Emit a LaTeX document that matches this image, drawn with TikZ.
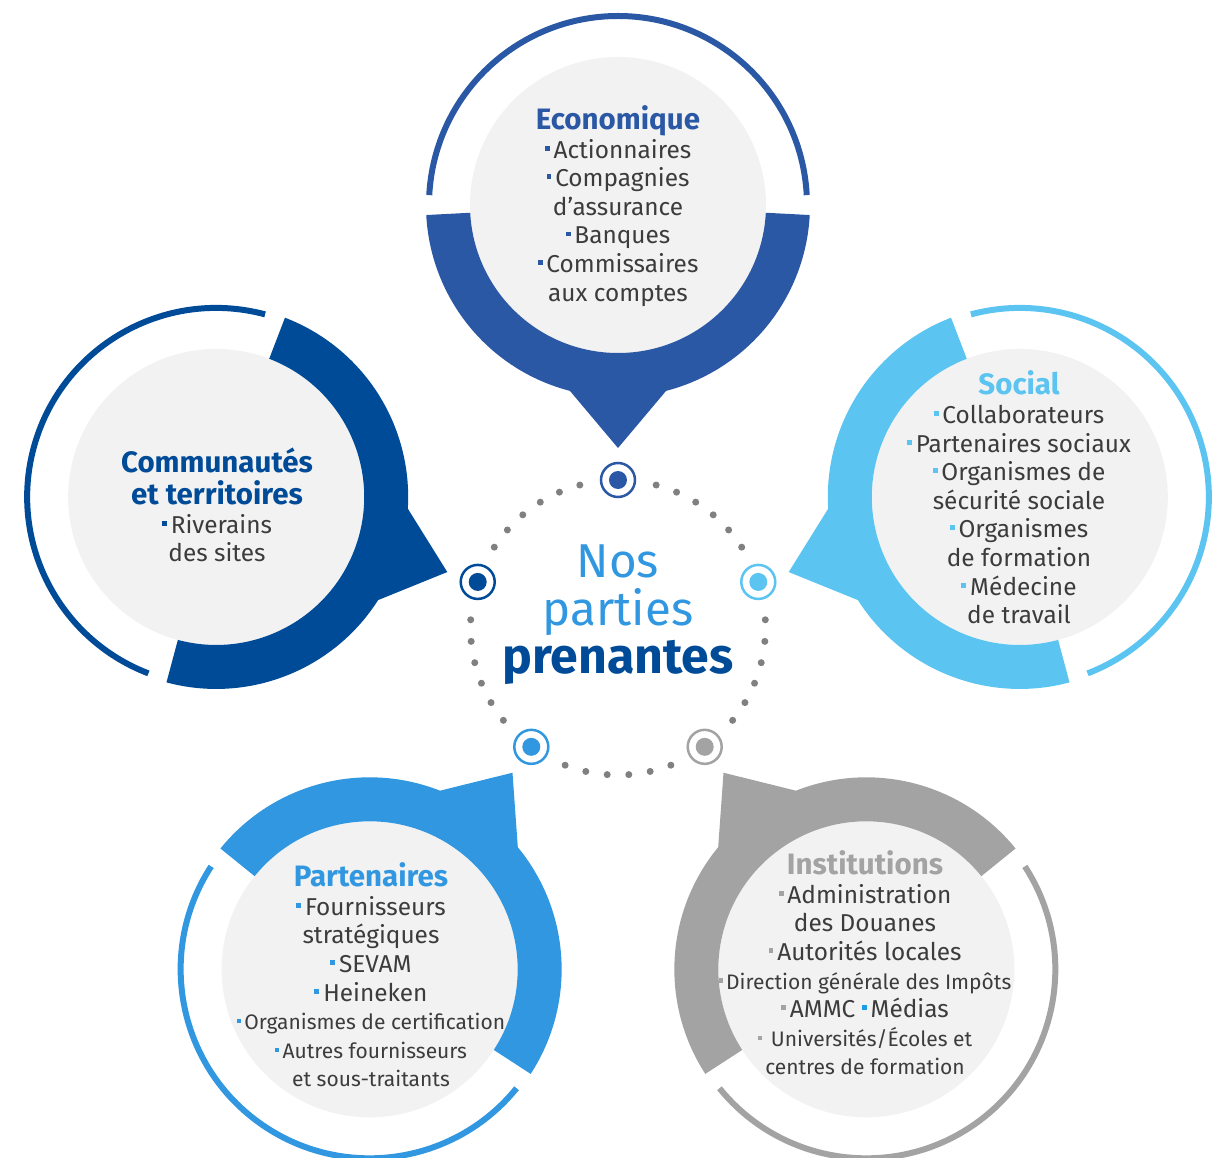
\documentclass[tikz,border=0pt]{standalone}
\usepackage{fontspec}
\setmainfont{Fira Sans}
\usetikzlibrary{positioning}
\definecolor{ecobleu}{HTML}{2A58A5}
\definecolor{combleu}{HTML}{004B98}
\definecolor{socbleu}{HTML}{5BC4F0}
\definecolor{parbleu}{HTML}{3097E0}
\definecolor{insgris}{HTML}{A3A3A3}
\definecolor{fondgris}{HTML}{F2F2F2}
\definecolor{textegris}{HTML}{3C3C3C}
\definecolor{pointgris}{HTML}{808080}
\definecolor{mediableu}{HTML}{1E9BE6}
\newcommand{\puce}[1]{{\color{#1}\rule[0.31em]{0.2em}{0.2em}}\hspace{0.16em}}
\newcommand{\entete}[2]{{\color{#1}\fontsize{29.5}{28.6}\selectfont\bfseries #2}}
\newcommand{\petit}{\fontsize{21}{28.6}\selectfont}
\tikzset{
  liste/.style={align=center, text=textegris, inner sep=0pt, font=\fontsize{24.4}{28.6}\selectfont},
  repere/.style={circle, minimum size=34, line width=2.5, fill=white, inner sep=0pt}
}
\begin{document}
\begin{tikzpicture}[x=1pt, y=1pt]
\useasboundingbox (-618,-529.5) rectangle (602,627.5);
\foreach \a/\col/\n in {90/ecobleu/eco, 162/combleu/com, 18/socbleu/soc, 234/parbleu/par, 306/insgris/ins}{
  \begin{scope}[shift={(\a:422.5)}]
    \fill[fondgris] (0,0) circle (148);
    \fill[\col] (\a+93:192) arc[start angle=\a+93, end angle=\a+165.5, radius=192]
      -- (\a+180:243) -- (\a+194.5:192)
      arc[start angle=\a+194.5, end angle=\a+267, radius=192]
      -- (\a+267:148) arc[start angle=\a+267, end angle=\a+93, radius=148] -- cycle;
    \draw[\col, line width=6] (\a-87:189) arc[start angle=\a-87, end angle=\a+87, radius=189];
  \end{scope}
  \coordinate (\n) at (\a:422.5);
}
\foreach \a/\col/\m in {90/ecobleu/meco, 162/combleu/mcom, 18/socbleu/msoc, 234/parbleu/mpar, 306/insgris/mins}{
  \node[repere, draw=\col] (\m) at (\a:147.5) {};
  \fill[\col] (\m) circle (9);
  \foreach \k in {0,...,5}
    \fill[pointgris] (\a-15-8.4*\k:147.5) circle (3.5);
}
\node[align=center, inner sep=0pt, font=\fontsize{47.5}{48}\selectfont] (centre) at (0,13)
  {{\color{parbleu}Nos}\\{\color{parbleu}parties}\\{\color{combleu}\fontsize{50}{48}\selectfont\bfseries prenantes}};
\node[liste] (teco) at (0,421.5) {\entete{ecobleu}{Economique}\\
  \puce{ecobleu}Actionnaires\\ \puce{ecobleu}Compagnies\\ d’assurance\\
  \puce{ecobleu}Banques\\ \puce{ecobleu}Commissaires\\ aux comptes};
\node[liste] (tcom) at (-401,122.5) {{\color{combleu}\fontsize{29.5}{28.6}\selectfont\bfseries Communautés}\\[3.4pt]
  {\color{combleu}\fontsize{29.5}{28.6}\selectfont\bfseries et territoires}\\
  \puce{combleu}Riverains\\ des sites};
\node[liste] (tsoc) at (401,130) {\entete{socbleu}{Social}\\
  \puce{socbleu}Collaborateurs\\ \puce{socbleu}Partenaires sociaux\\
  \puce{socbleu}Organismes de\\ sécurité sociale\\ \puce{socbleu}Organismes\\
  de formation\\ \puce{socbleu}Médecine\\ de travail};
\node[liste] (tpar) at (-247,-347.5) {\entete{parbleu}{Partenaires}\\
  \puce{parbleu}Fournisseurs\\ stratégiques\\ \puce{parbleu}SEVAM\\ \puce{parbleu}Heineken\\
  {\petit\puce{parbleu}Organismes de certification}\\
  {\petit\puce{parbleu}Autres fournisseurs}\\ {\petit et sous-traitants}};
\node[liste] (tins) at (247,-335.5) {\entete{insgris}{Institutions}\\
  \puce{insgris}Administration\\ des Douanes\\ \puce{insgris}Autorités locales\\
  {\petit\puce{insgris}Direction générale des Impôts}\\
  \puce{insgris}AMMC \puce{mediableu}Médias\\
  {\petit\puce{insgris} Universités/Écoles et}\\ {\petit centres de formation}};
\end{tikzpicture}
\end{document}
